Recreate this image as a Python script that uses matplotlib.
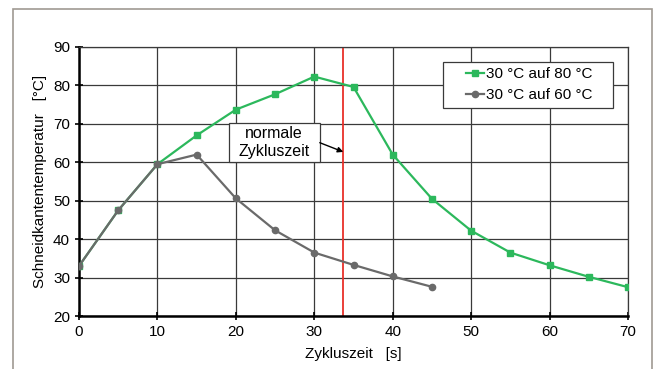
import matplotlib.pyplot as plt
from matplotlib.patches import Rectangle

plt.rcParams['font.family'] = ['Liberation Sans', 'DejaVu Sans']

# Zykluszeit [s]
t_80 = [0, 5, 10, 15, 20, 25, 30, 35, 40, 45, 50, 55, 60, 65, 70]
temp_80 = [33.0, 47.5, 59.5, 67.0, 73.7, 77.7, 82.3, 79.6, 62.0, 50.5, 42.2, 36.5, 33.2, 30.2, 27.5]
t_60 = [0, 5, 10, 15, 20, 25, 30, 35, 40, 45]
temp_60 = [33.0, 47.5, 59.5, 62.0, 50.6, 42.3, 36.5, 33.3, 30.3, 27.6]
normal_cycle = 33.7

labels = ["30 °C auf 80 °C", "30 °C auf 60 °C"]
green = "#2cb85c"
grey = "#6a6a6a"
edge = "#3a3a3a"

fig = plt.figure(figsize=(6.56, 3.69), dpi=100)
ax = fig.add_axes([79 / 656, 1 - 316 / 369, 549 / 656, 269 / 369])

# outer frame of the figure
fig.patches.append(Rectangle((13 / 656, -0.05), 639 / 656, 1.05 - 9 / 369,
                             transform=fig.transFigure, fill=False,
                             edgecolor="#a09a92", lw=1.2))

ax.plot(t_80, temp_80, color=green, marker="s", ms=4.5, lw=1.6, label=labels[0], zorder=3)
ax.plot(t_60, temp_60, color=grey, marker="o", ms=4.5, lw=1.6, label=labels[1], zorder=4)
ax.axvline(normal_cycle, color="#e8302a", lw=1.3, zorder=2)

ax.set_xlim(0, 70)
ax.set_ylim(20, 90)
ax.set_xticks(range(0, 71, 10))
ax.set_yticks(range(20, 91, 10))
ax.grid(True, color=edge, lw=0.9, zorder=0)
ax.set_axisbelow(True)
ax.tick_params(axis="both", direction="inout", length=6, width=1.2, labelsize=11, colors="black")
for side in ["left", "bottom"]:
    ax.spines[side].set_linewidth(1.8)
for side in ["top", "right"]:
    ax.spines[side].set_linewidth(0.9)
    ax.spines[side].set_color(edge)

ax.set_xlabel("Zykluszeit   [s]", fontsize=11, labelpad=6)
ax.set_ylabel("Schneidkantentemperatur   [°C]", fontsize=11, labelpad=4)

# annotation box "normale Zykluszeit"
ax.add_patch(Rectangle((19.1, 60.05), 11.6, 10.15, fc="white", ec=edge, lw=0.9, zorder=5))
ax.text(24.9, 65.1, "normale\nZykluszeit", ha="center", va="center", fontsize=11.5,
        linespacing=1.2, zorder=6)
ax.annotate("", xy=(normal_cycle, 62.7), xytext=(30.7, 65.1),
            arrowprops=dict(arrowstyle="-|>", color="black", lw=1, mutation_scale=8,
                            shrinkA=0, shrinkB=0),
            zorder=6)

# legend with its own frame
ax.add_patch(Rectangle((0.663, 0.773), 0.310, 0.171, transform=ax.transAxes,
                       fc="white", ec=edge, lw=0.9, zorder=5))
leg = ax.legend(loc="center left", bbox_to_anchor=(0.705, 0.859), fontsize=11,
                frameon=False, handlelength=1.2, handletextpad=0.1, borderpad=0,
                borderaxespad=0, labelspacing=0.45)
leg.set_zorder(6)

fig.savefig("out.png", dpi=100)
